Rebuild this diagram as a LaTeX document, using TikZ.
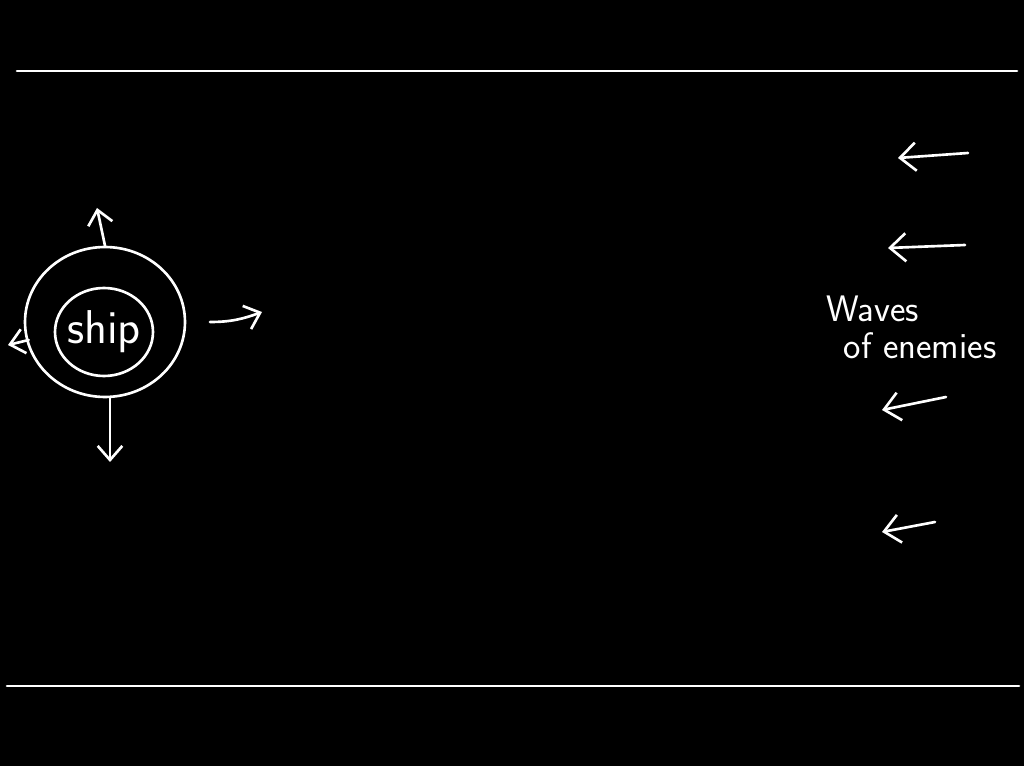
\documentclass[tikz,border=0pt]{standalone}
\usepackage{tikz}
\usetikzlibrary{arrows.meta, positioning, shapes.geometric, backgrounds}
\tikzset{
  chalk/.style={draw=white, line width=1.5pt, line cap=round},
  shipring/.style={chalk, ellipse, inner sep=0pt},
  move/.style={chalk, -{Straight Barb[length=8pt, width=14pt, line width=1.5pt]}},
  wave/.style={chalk, -{Straight Barb[length=9pt, width=16pt, line width=1.5pt]}},
  note/.style={text=white, font=\sffamily\fontsize{21}{25}\selectfont, align=left},
}
\begin{document}
\begin{tikzpicture}[x=0.02cm, y=-0.02cm]
  \fill[black] (0,0) rectangle (1024,766);
  \useasboundingbox (0,0) rectangle (1024,766);

  % border lines
  \coordinate (tl) at (17,71);
  \coordinate (tr) at (1017,71);
  \coordinate (bl) at (7,686);
  \coordinate (br) at (1019,686);
  \draw[chalk] (tl) -- (tr);
  \draw[chalk] (bl) -- (br);

  % the ship
  \node[shipring, minimum width=3.2cm, minimum height=3.0cm] (hull) at (105,322) {};
  \node[shipring, minimum width=1.96cm, minimum height=1.76cm] (cabin) at (104,332) {};
  \node[text=white, font=\sffamily\fontsize{27}{30}\selectfont] (ship) at (cabin.center) {ship};

  \coordinate (up) at (97,208);
  \coordinate (down) at (110,462);
  \coordinate (left) at (8,345);
  \coordinate (rightA) at (210,322);
  \coordinate (rightB) at (262,312);
  \draw[move] (hull.north) -- (up);
  \draw[move] (hull.south) ++(5,0) -- (down);
  \draw[move] (hull.west) ++(5,18) -- (left);
  \draw[move] (rightA) to[out=0, in=200] (rightB);

  % enemies
  \coordinate (e1a) at (968,153);
  \coordinate (e1b) at (898,158);
  \coordinate (e2a) at (965,245);
  \coordinate (e2b) at (888,248);
  \coordinate (e3a) at (946,397);
  \coordinate (e3b) at (882,410);
  \coordinate (e4a) at (935,522);
  \coordinate (e4b) at (882,532);
  \draw[wave] (e1a) -- (e1b);
  \draw[wave] (e2a) -- (e2b);
  \draw[wave] (e3a) -- (e3b);
  \draw[wave] (e4a) -- (e4b);

  \node[note, anchor=north west] (waves) at (820,290) {Waves\\[-4pt]\hspace{10pt}of enemies};
\end{tikzpicture}
\end{document}
